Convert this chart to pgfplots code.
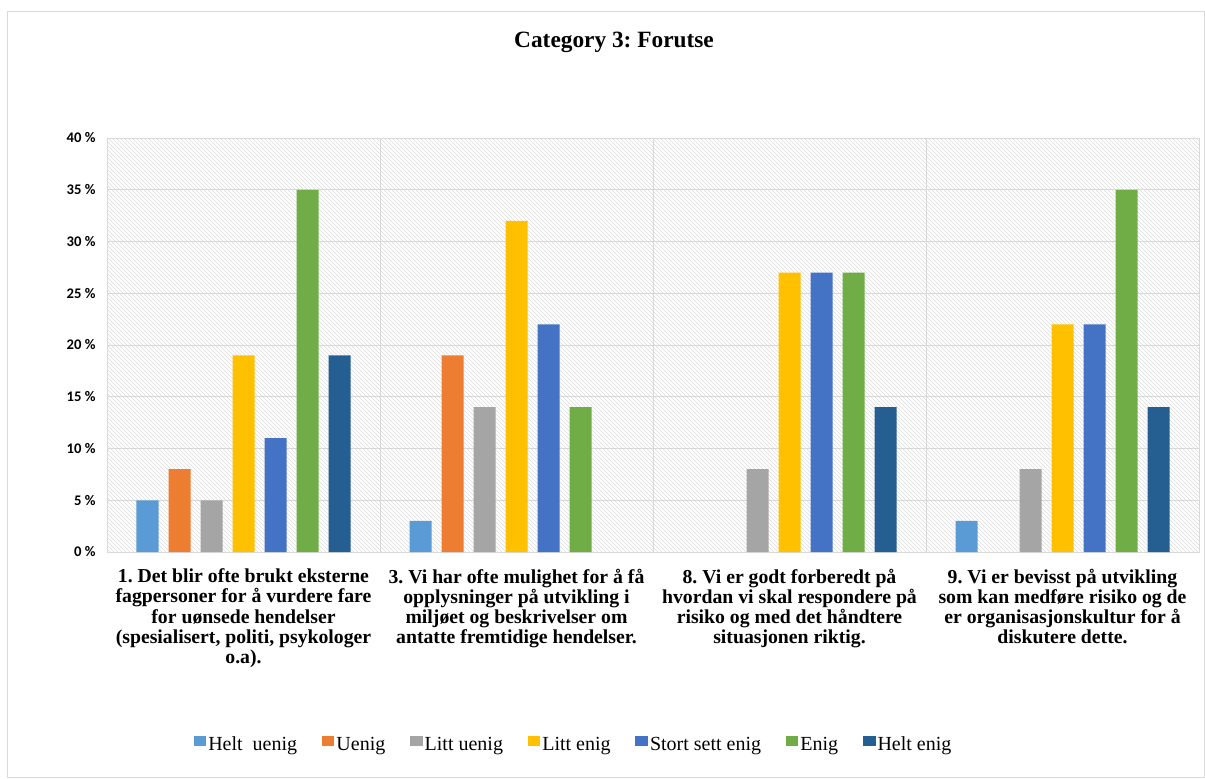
\documentclass[border=0pt]{standalone}
\usepackage{pgfplots}
\pgfplotsset{compat=1.18}
\usepackage{fontspec}
\setmainfont{Liberation Serif}
\newfontfamily\calibri{Carlito}
\usetikzlibrary{patterns}
\definecolor{c1}{HTML}{5B9BD5}
\definecolor{c2}{HTML}{ED7D31}
\definecolor{c3}{HTML}{A5A5A5}
\definecolor{c4}{HTML}{FFC000}
\definecolor{c5}{HTML}{4472C4}
\definecolor{c6}{HTML}{70AD47}
\definecolor{c7}{HTML}{255E91}
\definecolor{gridc}{HTML}{D9D9D9}
\frenchspacing
\begin{document}
\begin{tikzpicture}[x=0.75pt,y=0.75pt]
% bounding frame in px (origin = axis south west at px (107,552))
\path[use as bounding box] (-107,-226) rectangle (1098,552);
\draw[gridc,line width=0.75pt] (-99,-225) rectangle (1097,540);
\begin{axis}[
  at={(0,0)}, anchor=south west,
  scale only axis,
  width=819pt, height=310.5pt,
  ybar=7.5pt, bar width=16.5pt,
  xmin=-0.5, xmax=3.5,
  ymin=0, ymax=40,
  ytick={0,5,...,40},
  yticklabel={\pgfmathprintnumber{\tick}\ \%},
  /pgf/number format/assume math mode=true,
  yticklabel style={font=\calibri\bfseries\fontsize{11}{12}\selectfont, xshift=-5pt},
  xtick={0,1,2,3},
  xticklabels={
    {1. Det blir ofte brukt eksterne\\fagpersoner for å vurdere fare\\for uønsede hendelser\\(spesialisert, politi, psykologer\\o.a).},
    {3. Vi har ofte mulighet for å få\\opplysninger på utvikling i\\miljøet og beskrivelser om\\antatte fremtidige hendelser.},
    {8. Vi er godt forberedt på\\hvordan vi skal respondere på\\risiko og med det håndtere\\situasjonen riktig.},
    {9. Vi er bevisst på utvikling\\som kan medføre risiko og de\\er organisasjonskultur for å\\diskutere dette.}},
  xticklabel style={align=center, font=\bfseries\fontsize{14.8}{15.2}\selectfont, yshift=-9pt},
  minor xtick={0.5,1.5,2.5},
  xminorgrids=true, ymajorgrids=true,
  grid style={gridc, line width=0.75pt},
  minor grid style={gridc, line width=0.75pt},
  major tick length=0pt, minor tick length=0pt,
  axis line style={gridc, line width=0.75pt},
  axis background/.style={pattern=north west lines, pattern color=gray!28},
  legend style={at={(0.4263,-0.4638)}, anchor=center, draw=none, fill=none,
    legend columns=7, font=\fontsize{15}{17}\selectfont,
    nodes={inner sep=0pt},
    /tikz/every odd column/.append style={column sep=1.5pt},
    /tikz/every even column/.append style={column sep=18.5pt}},
  legend image code/.code={\fill[#1] (0pt,-1.5pt) rectangle (9.5pt,6.5pt);},
]
\addplot[fill=c1, draw=none] coordinates {(0,5) (1,3) (3,3)};
\addplot[fill=c2, draw=none] coordinates {(0,8) (1,19)};
\addplot[fill=c3, draw=none] coordinates {(0,5) (1,14) (2,8) (3,8)};
\addplot[fill=c4, draw=none] coordinates {(0,19) (1,32) (2,27) (3,22)};
\addplot[fill=c5, draw=none] coordinates {(0,11) (1,22) (2,27) (3,22)};
\addplot[fill=c6, draw=none] coordinates {(0,35) (1,14) (2,27) (3,35)};
\addplot[fill=c7, draw=none] coordinates {(0,19) (2,14) (3,14)};
\legend{Helt\ \ uenig, Uenig, Litt uenig, Litt enig, Stort sett enig, Enig, Helt enig}
\end{axis}
\node[font=\bfseries\fontsize{17.5}{20}\selectfont] at (507,510) {Category 3: Forutse};
\end{tikzpicture}
\end{document}
